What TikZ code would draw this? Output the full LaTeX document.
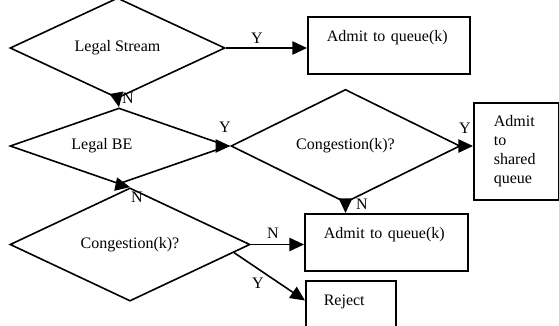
\documentclass[tikz,border=0pt]{standalone}
\usepackage{fontspec}
\setmainfont{Liberation Serif}
\usetikzlibrary{shapes.geometric,arrows.meta,calc}

\begin{document}
\begin{tikzpicture}[x=0.75pt,y=-0.75pt,line width=1.2pt,
    -{Triangle[length=11pt,width=10pt]},
    font=\fontsize{12}{14.25}\selectfont]
    \tikzstyle{decision}=[diamond,draw,inner sep=0pt]
    \tikzstyle{action}=[rectangle,draw,anchor=north west,align=left,
      inner ysep=0pt,text height=18.75pt,text depth=24pt]
    \tikzstyle{answer}=[inner sep=1pt]

    \useasboundingbox (0,0) rectangle (559,325);

    % decisions
    \node[decision,minimum width=161.25pt,minimum height=59.25pt] (legal-s) at (117.5,48) {Legal Stream};
    \node[decision,minimum width=163.5pt,minimum height=57pt] (legal-be) at (119,146) {\makebox[20pt][r]{Legal BE}};
    \node[decision,minimum width=171.75pt,minimum height=62.25pt] (cong-be) at (345.5,146) {Congestion(k)?};
    \node[decision,minimum width=180pt,minimum height=56.25pt] (cong) at (130,244.5) {Congestion(k)?};

    % outcomes
    \node[action,inner xsep=14.25pt,text width=93pt] (queue-s) at (307,16) {Admit to queue(k)};
    \node[action,inner xsep=14.25pt,text width=93.75pt] (queue) at (304,213) {Admit to queue(k)};
    \node[action,inner xsep=13.5pt,text width=40.5pt] (reject) at (305,280) {Reject};
    \node[rectangle,draw,anchor=north west,align=left,inner xsep=15pt,inner ysep=0pt,
      text width=33.75pt,minimum height=72.75pt] (shared) at (473,102) {Admit\\to\\shared\\queue};

    % flow
    \draw (legal-s.east) -- (legal-s.east -| queue-s.west);
    \draw (legal-s.south) -- (legal-be.north);
    \draw (legal-be.east) -- (cong-be.west);
    \draw (cong-be.east) -- (cong-be.east -| shared.west);
    \draw (cong-be.south) -- (cong-be.south |- queue.north);
    \draw (legal-be.south) -- (cong.north);
    \draw (cong.east) -- (cong.east -| queue.west);
    \draw ($(cong.east)!0.14!(cong.south)$) -- ($(reject.north west)!0.35!(reject.south west)$);

    % answers
    \foreach \name/\pos/\txt in {y-1/{(257,38)}/Y, n-1/{(128,98)}/N, y-2/{(225,127)}/Y,
      y-3/{(465,128)}/Y, n-2/{(362,204)}/N, n-3/{(137,197)}/N, n-4/{(273,233)}/N, y-4/{(258,283)}/Y}
    \node[answer] (\name) at \pos {\txt};
\end{tikzpicture}
\end{document}
